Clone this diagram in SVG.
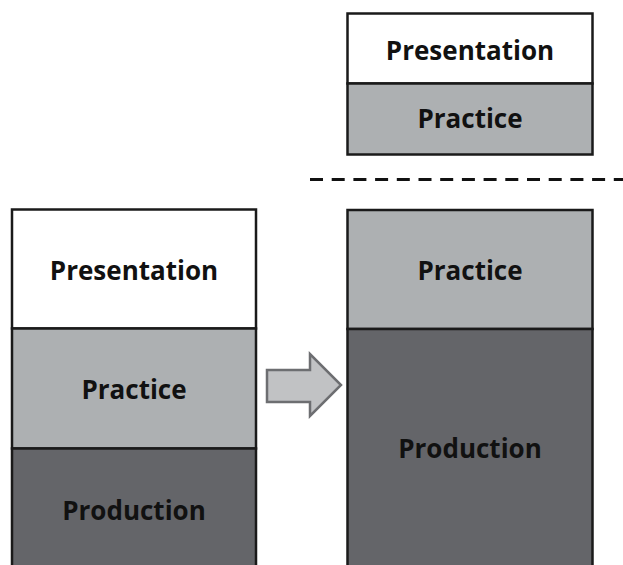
<svg xmlns="http://www.w3.org/2000/svg" width="623" height="565" viewBox="0 0 623 565">
<style>
.box{stroke:#1a1a1a;stroke-width:2.5}
.w{fill:#ffffff}
.l{fill:#adb0b2}
.d{fill:#646569}
text{font-family:"Open Sans","DejaVu Sans",sans-serif;font-weight:700;font-size:26px;fill:#111111;text-anchor:middle}
</style>
<rect width="623" height="565" fill="#ffffff"/>
<g id="top-stack">
<rect class="box w" x="347.5" y="13.5" width="245" height="70"/>
<rect class="box l" x="347.5" y="83.5" width="245" height="71"/>
<text x="470" y="60">Presentation</text>
<text x="470" y="128">Practice</text>
</g>
<g id="divider">
<line x1="310" y1="179.5" x2="623" y2="179.5" stroke="#111111" stroke-width="3" stroke-dasharray="13 8.7"/>
</g>
<g id="left-stack">
<rect class="box w" x="12" y="209.5" width="244" height="119"/>
<rect class="box l" x="12" y="328.5" width="244" height="120"/>
<rect class="box d" x="12" y="448.5" width="244" height="130"/>
<text x="134" y="280">Presentation</text>
<text x="134" y="399">Practice</text>
<text x="134" y="520">Production</text>
</g>
<g id="right-stack">
<rect class="box l" x="347.5" y="210" width="245" height="119"/>
<rect class="box d" x="347.5" y="329" width="245" height="250"/>
<text x="470" y="280">Practice</text>
<text x="470" y="458">Production</text>
</g>
<g id="connectors">
<polygon points="267,370 310,370 310,354 341,385 310,416 310,402 267,402" fill="#c1c2c4" stroke="#6d6e71" stroke-width="2.5"/>
</g>
</svg>
